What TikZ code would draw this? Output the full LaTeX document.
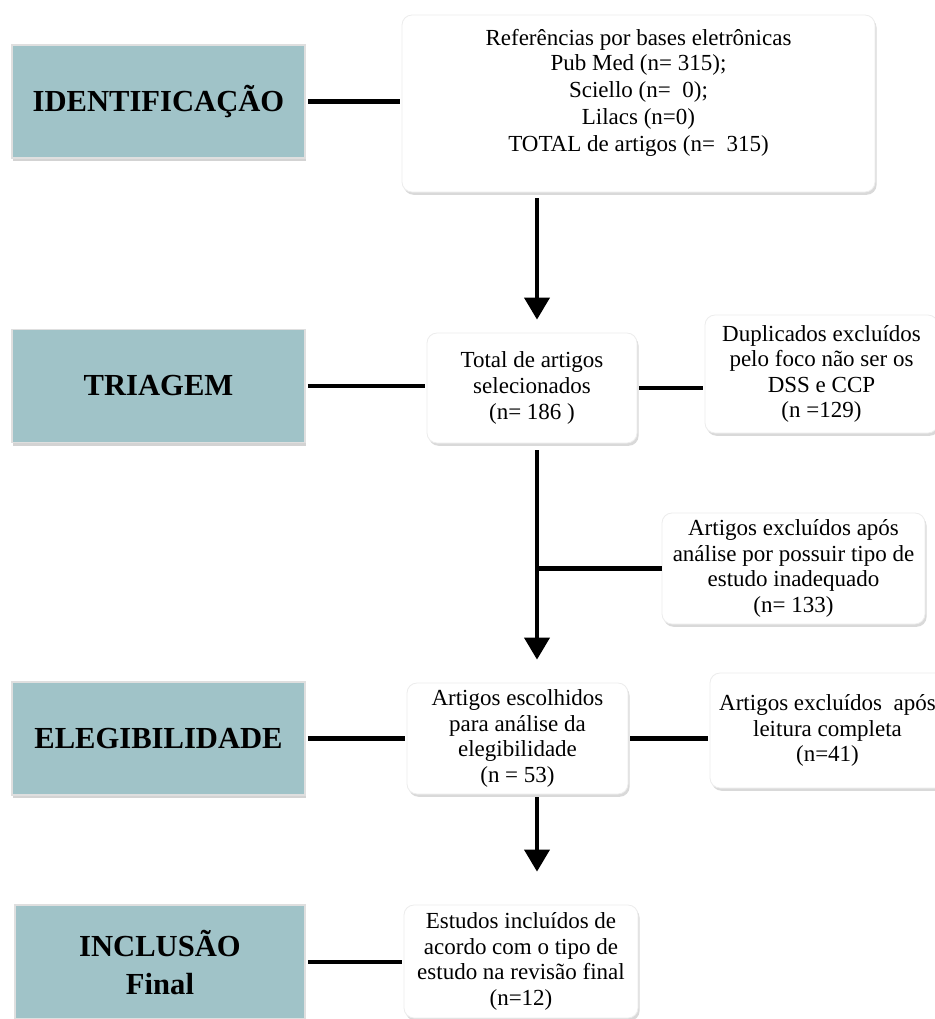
\documentclass[tikz,border=0pt]{standalone}
\usepackage{fontspec}
\setmainfont{Liberation Serif}
\usetikzlibrary{arrows.meta,shadows}
\definecolor{stagefill}{RGB}{160,195,200}
\begin{document}
\begin{tikzpicture}[x=0.5pt,y=-0.5pt,
    stage/.style={draw=white!75!gray, line width=0.8pt, fill=stagefill, minimum width=146.5pt, minimum height=56.5pt, align=center, font=\fontsize{15.3}{19}\selectfont\bfseries, drop shadow={shadow xshift=0.5pt, shadow yshift=-1.6pt, opacity=0.35}},
    box/.style={draw=gray!15, fill=white, rounded corners=5pt, align=center, font=\fontsize{11.5}{12.8}\selectfont, drop shadow={shadow xshift=0.8pt, shadow yshift=-1.4pt, opacity=0.3}},
    link/.style={line width=2.2pt},
    flow/.style={line width=2pt, -{Triangle[width=12.5pt,length=11pt]}}]
\useasboundingbox (0,0) rectangle (935,1019);
% stages
\node[stage] (ident) at (158.5,101.5) {IDENTIFICAÇÃO};
\node[stage] (triagem) at (158.5,386) {TRIAGEM};
\node[stage] (elegib) at (158.5,738.5) {ELEGIBILIDADE};
\node[stage, minimum width=145pt, minimum height=57pt] (inclusao) at (160,962) {INCLUSÃO\\Final};
% boxes
\node[box, minimum width=236.5pt, minimum height=88.5pt] (ref) at (638.5,103.5) {Referências por bases eletrônicas\\Pub Med (n= 315);\\[0.6pt]Sciello (n=\ \ 0);\\[0.6pt]Lilacs (n=0)\\[0.6pt]TOTAL de artigos (n=\ \ 315)\\[0.7pt]\mbox{}};
\node[box, minimum width=105pt, minimum height=55pt] (total) at (532,388) {Total de artigos\\selecionados\\(n= 186 )};
\node[box, minimum width=116.5pt, minimum height=59pt] (dup) at (821.5,374) {Duplicados excluídos\\pelo foco não ser os\\DSS e CCP\\(n =129)};
\node[box, minimum width=131.5pt, minimum height=53.5pt] (analise) at (793.5,568.5) {Artigos excluídos após\\análise por possuir tipo de\\estudo inadequado\\(n= 133)};
\node[box, minimum width=110.5pt, minimum height=53.5pt] (escolhidos) at (517.5,738.5) {Artigos escolhidos\\para análise da\\elegibilidade\\(n = 53)};
\node[box, minimum width=117.5pt, minimum height=57.5pt] (leitura) at (827.5,730.5) {Artigos excluídos\ \ após\\leitura completa\\(n=41)};
\node[box, minimum width=117pt, minimum height=56.5pt] (estudos) at (521,961.5) {Estudos incluídos de\\acordo com o tipo de\\estudo na revisão final\\(n=12)};
% connectors
\foreach \a/\b in {ident/ref, triagem/total, total/dup, elegib/escolhidos, escolhidos/leitura, inclusao/estudos}
    \draw[link, shorten <=1pt, shorten >=1pt] (\a.east) -- (\a.east -| \b.west);
\coordinate (col) at (537,0);
\draw[flow, shorten <=3pt, shorten >=6.5pt] (ref.south -| col) -- (total.north -| col);
\draw[flow, shorten <=3.5pt, shorten >=11.5pt] (total.south -| col) -- (escolhidos.north -| col);
\draw[link] (analise.west -| col) -- (analise.west);
\draw[flow, shorten <=1.5pt, shorten >=16.5pt] (escolhidos.south -| col) -- (estudos.north -| col);
\end{tikzpicture}
\end{document}
